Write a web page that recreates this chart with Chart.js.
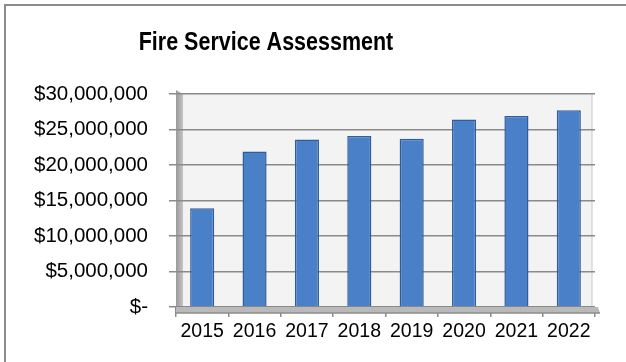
<!DOCTYPE html>
<html>
<head>
<meta charset="utf-8">
<script src="https://cdn.jsdelivr.net/npm/chart.js@4/dist/chart.umd.min.js"></script>
<style>
    html, body { margin: 0; padding: 0; background: #fff; overflow: hidden; }
    #frame {
        position: absolute; left: 4px; top: 4px;
        width: 700px; height: 420px;
        border-left: 2px solid #8c8c8c; border-top: 2px solid #8c8c8c;
    }
    #parent { position: absolute; left: 0; top: 0; width: 626px; height: 362px; }
</style>
</head>
<body>
<div id="frame"></div>
<div id="parent"><canvas id="myChart" width="626" height="362"></canvas></div>
<script>
const years = ['2015', '2016', '2017', '2018', '2019', '2020', '2021', '2022'];
const assessment = [13900000, 21900000, 23600000, 24100000, 23700000, 26400000, 26900000, 27700000];
const yTicks = [0, 5000000, 10000000, 15000000, 20000000, 25000000, 30000000];
const chartTitle = 'Fire Service Assessment';

const FONT = "'Liberation Sans', Arial, sans-serif";

function money(v) {
    if (v === 0) return '$-';
    return '$' + v.toLocaleString('en-US');
}

// title sits centred over the whole frame, not over the plot (slightly tall, narrow type)
const titlePlugin = {
    id: 'frameTitle',
    afterDraw(chart) {
        const ctx = chart.ctx;
        ctx.save();
        ctx.translate(266, 43);
        ctx.scale(1, 1.16);
        ctx.font = 'bold 21.5px ' + FONT;
        ctx.fillStyle = '#000';
        ctx.textAlign = 'center';
        ctx.textBaseline = 'middle';
        ctx.fillText(chartTitle, 0, 0);
        ctx.restore();
    }
};

// back wall, left side wall and floor of the 3-D style plot
const wallPlugin = {
    id: 'walls',
    beforeDraw(chart) {
        const { ctx, chartArea: a } = chart;
        ctx.save();
        ctx.fillStyle = '#f3f3f3';
        ctx.fillRect(a.left + 6, a.top, a.right - a.left - 9, a.bottom - a.top);
        ctx.strokeStyle = '#c8c8c8';
        ctx.lineWidth = 1;
        ctx.beginPath();
        ctx.moveTo(a.right - 3, a.top);
        ctx.lineTo(a.right - 3, a.bottom);
        ctx.stroke();
        const g = ctx.createLinearGradient(a.left, 0, a.left + 7, 0);
        g.addColorStop(0, '#9a9a9a');
        g.addColorStop(1, '#c4c4c4');
        ctx.fillStyle = g;
        ctx.beginPath();
        ctx.moveTo(a.left, a.top - 4);
        ctx.lineTo(a.left + 7, a.top);
        ctx.lineTo(a.left + 7, a.bottom);
        ctx.lineTo(a.left, a.bottom + 5);
        ctx.closePath();
        ctx.fill();
        ctx.restore();
    },
    afterDatasetsDraw(chart) {
        const { ctx, chartArea: a } = chart;
        ctx.save();
        ctx.fillStyle = '#b9b9b9';
        ctx.beginPath();
        ctx.moveTo(a.left, a.bottom);
        ctx.lineTo(a.right + 3, a.bottom);
        ctx.lineTo(a.right + 5, a.bottom + 6);
        ctx.lineTo(a.left, a.bottom + 6);
        ctx.closePath();
        ctx.fill();
        ctx.strokeStyle = '#8c8c8c';
        ctx.lineWidth = 1.5;
        ctx.beginPath();
        ctx.moveTo(a.left, a.bottom + 6);
        ctx.lineTo(a.right + 5, a.bottom + 6);
        ctx.stroke();
        ctx.restore();
    }
};

// bars shaded darker at the edges
function barFill(context) {
    const el = context.element;
    if (!el || el.width === undefined || isNaN(el.x)) return '#4a80c8';
    const c = context.chart.ctx;
    const g = c.createLinearGradient(el.x - el.width / 2, 0, el.x + el.width / 2, 0);
    g.addColorStop(0, '#3d6fb3');
    g.addColorStop(0.45, '#5089d3');
    g.addColorStop(1, '#3a6aac');
    return g;
}

const chartSettings = {
    type: 'bar',
    data: {
        labels: years,
        datasets: [{
            data: assessment,
            backgroundColor: barFill,
            borderColor: '#2f5d99',
            borderWidth: 1.5,
            borderSkipped: 'bottom',
            barPercentage: 0.46,
            categoryPercentage: 1
        }]
    },
    options: {
        responsive: false,
        animation: false,
        events: [],
        layout: { padding: { left: 0, right: 31, top: 94, bottom: 0 } },
        plugins: {
            legend: { display: false },
            tooltip: { enabled: false },
            title: { display: false }
        },
        scales: {
            y: {
                min: 0,
                max: 30000000,
                afterFit(scale) { scale.width = 176; },
                afterBuildTicks(scale) { scale.ticks = yTicks.map(v => ({ value: v })); },
                ticks: {
                    color: '#000',
                    padding: 21,
                    font: { family: FONT, size: 20.5 },
                    callback: v => money(v)
                },
                grid: {
                    color: '#8a8a8a',
                    lineWidth: 1.5,
                    tickColor: '#8a8a8a',
                    tickLength: 7
                },
                border: { display: false }
            },
            x: {
                afterFit(scale) { scale.height = 55; },
                ticks: {
                    color: '#000',
                    padding: 3,
                    font: { family: FONT, size: 19.5 }
                },
                grid: {
                    drawOnChartArea: false,
                    tickColor: '#8a8a8a',
                    tickLength: 10,
                    lineWidth: 1.5
                },
                border: { display: false }
            }
        }
    },
    plugins: [wallPlugin, titlePlugin]
};

window.onload = function () {
    const ctx = document.getElementById('myChart').getContext('2d');
    new Chart(ctx, chartSettings);
};
</script>
</body>
</html>
